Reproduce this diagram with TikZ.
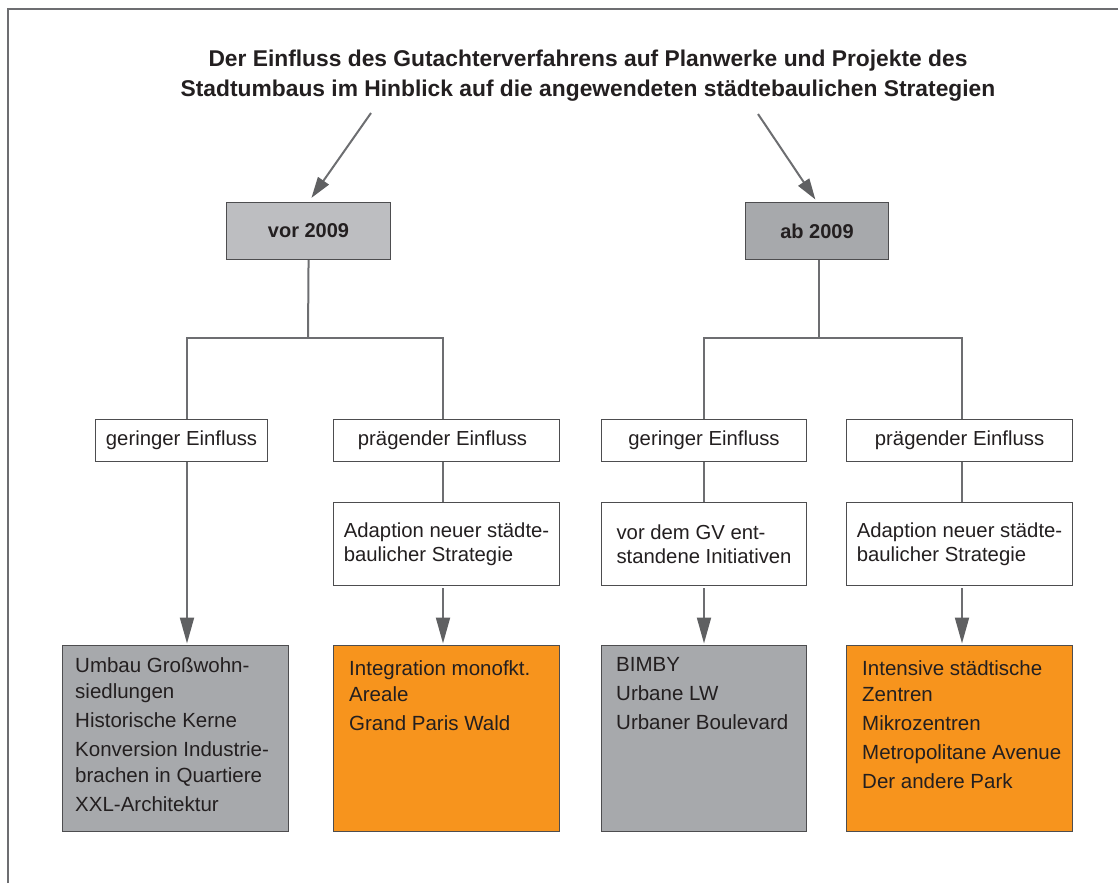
\documentclass[tikz,border=0pt]{standalone}
\usepackage{fontspec}
\setmainfont{Liberation Sans}
\usetikzlibrary{arrows.meta}
\definecolor{linegray}{HTML}{6D6E71}
\definecolor{tipgray}{HTML}{5F6062}
\definecolor{boxline}{HTML}{4D4D4F}
\definecolor{lightbox}{HTML}{BDBEC1}
\definecolor{midbox}{HTML}{A7A9AC}
\definecolor{orangebox}{HTML}{F7941D}
\definecolor{textdark}{HTML}{231F20}
\begin{document}
\begin{tikzpicture}[x=1pt,y=-1pt,
  conn/.style={draw=linegray,line width=2pt},
  arr/.style={conn,-{Triangle[length=26pt,width=14pt,color=tipgray,fill=tipgray]}},
  diag/.style={conn,-{Triangle[length=21pt,width=13pt,color=tipgray,fill=tipgray]}},
  box/.style={draw=boxline,line width=1.1pt,anchor=north west,inner sep=0pt,
    text=textdark,font=\fontsize{20.3}{24}\selectfont},
  yearbox/.style={box,font=\bfseries\fontsize{20}{24}\selectfont},
  listtext/.style={anchor=north west,inner sep=0pt,align=left,text=textdark,
    font=\fontsize{20.5}{26}\selectfont},
  titletext/.style={align=center,inner sep=0pt,text=textdark,
    font=\bfseries\fontsize{22.8}{30}\selectfont}
]
\useasboundingbox (0,0) rectangle (1118,883);
% frame
\draw[linegray,line width=2pt] (8,883) -- (8,9) -- (1118,9);

% title
\node[titletext] (title) at (588,76) {Der Einfluss des Gutachterverfahrens auf Planwerke und Projekte des\\Stadtumbaus im Hinblick auf die angewendeten städtebaulichen Strategien};

% year boxes
\node[yearbox,fill=lightbox,minimum width=164pt,minimum height=57pt] (vor) at (226,202) {vor 2009};
\node[yearbox,fill=midbox,minimum width=143pt,minimum height=57pt] (ab) at (745,202) {ab 2009};

% influence boxes
\node[box,fill=white,minimum width=172pt,minimum height=42pt] (g1) at (95,419) {geringer Einfluss};
\node[box,fill=white,minimum width=226pt,minimum height=42pt] (p1) at (333,419) {prägender Einfluss\hspace*{8pt}};
\node[box,fill=white,minimum width=205pt,minimum height=42pt] (g2) at (601,419) {geringer Einfluss};
\node[box,fill=white,minimum width=226pt,minimum height=42pt] (p2) at (846,419) {prägender Einfluss};

% second level
\node[box,fill=white,align=left,minimum width=226pt,minimum height=83pt] (a1) at (333,502) {Adaption neuer städte-\\baulicher Strategie};
\node[box,fill=white,align=left,minimum width=205pt,minimum height=83pt] (v2) at (601,502) {vor dem GV ent-\\standene Initiativen};
\node[box,fill=white,align=left,minimum width=226pt,minimum height=83pt] (a2) at (846,502) {Adaption neuer städte-\\baulicher Strategie};

% result boxes
\node[box,fill=midbox,minimum width=226pt,minimum height=186pt] (rA) at (62,645) {};
\node[box,fill=orangebox,minimum width=226pt,minimum height=186pt] (rB) at (333,645) {};
\node[box,fill=midbox,minimum width=205pt,minimum height=186pt] (rC) at (601,645) {};
\node[box,fill=orangebox,minimum width=226pt,minimum height=186pt] (rD) at (846,645) {};

\node[listtext] (tA) at (75,657) {Umbau Großwohn-\\siedlungen\\[3pt]Historische Kerne\\[3pt]Konversion Industrie-\\brachen in Quartiere\\[3pt]XXL-Architektur};
\node[listtext] (tB) at (349,660) {Integration monofkt.\\Areale\\[3pt]Grand Paris Wald};
\node[listtext] (tC) at (616,657) {BIMBY\\[3pt]Urbane LW\\[3pt]Urbaner Boulevard};
\node[listtext] (tD) at (862,660) {Intensive städtische\\Zentren\\[3pt]Mikrozentren\\[3pt]Metropolitane Avenue\\[3pt]Der andere Park};

% helper coordinates
\coordinate (t1) at (371,113);
\coordinate (t2) at (758,114);
\coordinate (forkL) at (308,338);
\coordinate (forkR) at (819,338);
\coordinate (xg1) at (187,0);
\coordinate (xp1) at (443,0);
\coordinate (xg2) at (704,0);
\coordinate (xp2) at (962,0);

% title arrows
\draw[diag,shorten >=5pt] (t1) -- (vor.north);
\draw[diag,shorten >=3pt] (t2) -- (ab.north);

% forks
\draw[conn] (vor.south) -- (forkL);
\draw[conn] (g1.north -| xg1) -- (xg1 |- forkL) -- (xp1 |- forkL) -- (p1.north -| xp1);
\draw[conn] (ab.south -| forkR) -- (forkR);
\draw[conn] (g2.north -| xg2) -- (xg2 |- forkR) -- (xp2 |- forkR) -- (p2.north -| xp2);

% second level connectors
\draw[conn] (p1.south -| xp1) -- (a1.north -| xp1);
\draw[conn] (g2.south -| xg2) -- (v2.north -| xg2);
\draw[conn] (p2.south -| xp2) -- (a2.north -| xp2);

% arrows to results
\draw[arr,shorten >=1.5pt] (g1.south -| xg1) -- (rA.north -| xg1);
\draw[arr,shorten <=2pt,shorten >=1.5pt] (a1.south -| xp1) -- (rB.north -| xp1);
\draw[arr,shorten <=2pt,shorten >=1.5pt] (v2.south -| xg2) -- (rC.north -| xg2);
\draw[arr,shorten <=2pt,shorten >=1.5pt] (a2.south -| xp2) -- (rD.north -| xp2);
\end{tikzpicture}
\end{document}
